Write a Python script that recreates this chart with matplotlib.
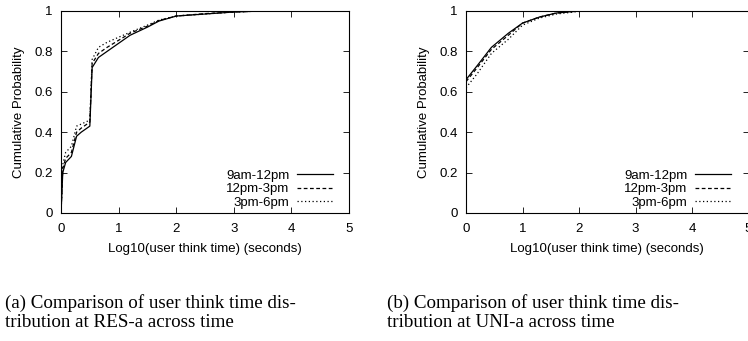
import numpy as np
import matplotlib.pyplot as plt

# RES-a (left panel)
res_x_9 = [0, 0.03, 0.08, 0.18, 0.27, 0.35, 0.5, 0.54, 0.65, 0.8, 1.0, 1.2, 1.5, 1.7, 2.0, 2.5, 3.0, 3.5, 5]
res_y_9 = [0, 0.20, 0.25, 0.28, 0.38, 0.40, 0.43, 0.72, 0.77, 0.80, 0.84, 0.88, 0.92, 0.95, 0.975, 0.985, 0.995, 1.0, 1.0]
res_x_12 = [0, 0.03, 0.08, 0.18, 0.27, 0.35, 0.5, 0.54, 0.65, 0.8, 1.0, 1.2, 1.5, 1.7, 2.0, 2.5, 3.0, 3.5, 5]
res_y_12 = [0, 0.22, 0.27, 0.30, 0.40, 0.42, 0.45, 0.74, 0.79, 0.82, 0.855, 0.89, 0.925, 0.953, 0.975, 0.987, 0.995, 1.0, 1.0]
res_x_3 = [0, 0.03, 0.08, 0.18, 0.27, 0.35, 0.5, 0.54, 0.65, 0.8, 1.0, 1.2, 1.5, 1.7, 2.0, 2.5, 3.0, 3.5, 5]
res_y_3 = [0, 0.24, 0.30, 0.33, 0.43, 0.44, 0.46, 0.76, 0.82, 0.845, 0.87, 0.895, 0.93, 0.955, 0.975, 0.985, 0.995, 1.0, 1.0]

# UNI-a (right panel)
uni_x = [0, 0.2, 0.45, 0.75, 1.0, 1.3, 1.6, 2.0, 2.5, 5]
uni_y_9 = [0.66, 0.73, 0.82, 0.89, 0.94, 0.97, 0.99, 1.0, 1.0, 1.0]
uni_y_12 = [0.65, 0.72, 0.81, 0.88, 0.94, 0.97, 0.99, 1.0, 1.0, 1.0]
uni_y_3 = [0.62, 0.69, 0.79, 0.86, 0.93, 0.965, 0.985, 0.998, 1.0, 1.0]

labels = ['9am-12pm', '12pm-3pm', '3pm-6pm']
styles = ['-', (0, (3, 2)), (0, (1, 2))]
xticks = [0, 1, 2, 3, 4, 5]
yticks = [0, 0.2, 0.4, 0.6, 0.8, 1]
captions = ['(a) Comparison of user think time dis-\ntribution at RES-a across time',
            '(b) Comparison of user think time dis-\ntribution at UNI-a across time']

fig = plt.figure(figsize=(7.48, 3.41), dpi=100)
plt.rcParams['font.family'] = 'Liberation Sans'

ax1 = fig.add_axes([0.0816, 0.3754, 0.385, 0.5924])
ax2 = fig.add_axes([0.623, 0.3754, 0.3777, 0.5924])

panels = [
    (ax1, [res_x_9, res_x_12, res_x_3], [res_y_9, res_y_12, res_y_3], 0.944),
    (ax2, [uni_x, uni_x, uni_x], [uni_y_9, uni_y_12, uni_y_3], 0.938),
]

for ax, xs, ys, lx in panels:
    for x, y, lab, ls in zip(xs, ys, labels, styles):
        ax.plot(x, y, color='black', linestyle=ls, linewidth=0.9, label=lab)
    ax.set_xlim(0, 5)
    ax.set_ylim(0, 1)
    ax.set_xticks(xticks)
    ax.set_yticks(yticks)
    ax.set_xticklabels([str(t) for t in xticks])
    ax.set_yticklabels(['0', '0.2', '0.4', '0.6', '0.8', '1'])
    ax.tick_params(direction='in', top=True, right=True, length=4, labelsize=9.5, width=0.6)
    ax.tick_params(axis='y', pad=6)
    ax.tick_params(axis='x', pad=7)
    for s in ax.spines.values():
        s.set_linewidth(0.8)
    ax.set_xlabel('Log10(user think time) (seconds)', fontsize=9.5, labelpad=6)
    ax.set_ylabel('Cumulative Probability', fontsize=9.5, labelpad=7)
    ax.legend(loc='lower right', bbox_to_anchor=(lx, 0.02), frameon=False, markerfirst=False,
              fontsize=9.5, handlelength=2.7, labelspacing=0.1, borderaxespad=0,
              borderpad=0, handletextpad=0.6)

fig.text(0.007, 0.138, captions[0], fontsize=13.7, family='Liberation Serif',
         linespacing=1.15, va='top')
fig.text(0.517, 0.138, captions[1], fontsize=13.7, family='Liberation Serif',
         linespacing=1.15, va='top')

fig.savefig('out.png', dpi=100)
